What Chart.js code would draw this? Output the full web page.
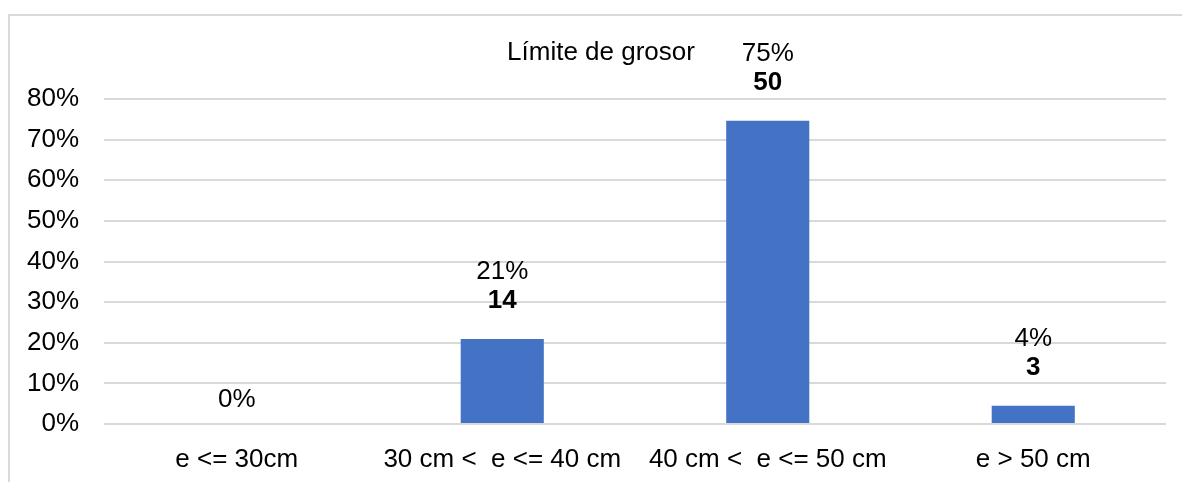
<!DOCTYPE html>
<html>
<head>
<meta charset="utf-8">
<script src="https://cdn.jsdelivr.net/npm/chart.js@4.4.1/dist/chart.umd.min.js"></script>
<style>
  html, body { margin: 0; padding: 0; background: #fff; }
  #wrap { position: relative; width: 1182px; height: 482px; overflow: hidden; }
  #frame { position: absolute; left: 8px; top: 14px; width: 1200px; height: 500px;
    border-top: 2px solid #d9d9d9; border-left: 2px solid #d9d9d9; box-sizing: border-box; }
  #chart { position: absolute; left: 0; top: 0; }
</style>
</head>
<body>
<div id="wrap">
  <div id="frame"></div>
  <canvas id="chart" width="1182" height="482"></canvas>
</div>
<script>
  const categories = ['e <= 30cm', '30 cm <  e <= 40 cm', '40 cm <  e <= 50 cm', 'e > 50 cm'];
  const counts = [0, 14, 50, 3];
  const total = counts.reduce((a, b) => a + b, 0);
  const percents = counts.map(c => c / total * 100);
  const yTicks = [0, 10, 20, 30, 40, 50, 60, 70, 80];
  const chartTitle = 'Límite de grosor';

  const FONT = '"Liberation Sans", Arial, Helvetica, sans-serif';
  const TEXT = '#000000';

  // title and bar labels drawn by hand so they sit where the original has them
  const labelsPlugin = {
    id: 'labelsPlugin',
    afterDatasetsDraw(chart) {
      const ctx = chart.ctx;
      const meta = chart.getDatasetMeta(0);
      ctx.save();
      ctx.textAlign = 'center';
      ctx.textBaseline = 'middle';
      ctx.fillStyle = TEXT;
      ctx.font = '26px ' + FONT;
      ctx.fillText(chartTitle, 601, 53);
      meta.data.forEach((bar, i) => {
        const pct = Math.round(percents[i]) + '%';
        ctx.font = '26px ' + FONT;
        if (counts[i] === 0) {
          ctx.fillText(pct, bar.x, bar.y - 24);
          return;
        }
        ctx.fillText(pct, bar.x, bar.y - 67);
        ctx.font = 'bold 26px ' + FONT;
        ctx.fillText(String(counts[i]), bar.x, bar.y - 38);
      });
      ctx.restore();
    }
  };

  new Chart(document.getElementById('chart'), {
    type: 'bar',
    data: {
      labels: categories,
      datasets: [{
        data: percents,
        backgroundColor: '#4472C4',
        borderWidth: 0,
        categoryPercentage: 1,
        barPercentage: 0.313,
      }],
    },
    options: {
      responsive: false,
      animation: false,
      layout: { padding: { left: 0, right: 16, top: 99, bottom: 0 } },
      plugins: {
        legend: { display: false },
        tooltip: { enabled: false },
        title: { display: false },
      },
      scales: {
        x: {
          grid: { display: false, drawTicks: false },
          border: { display: false },
          ticks: {
            color: TEXT,
            padding: 20,
            maxRotation: 0,
            autoSkip: false,
            font: { family: FONT, size: 26 },
          },
          afterFit(scale) { scale.height = 58; },
        },
        y: {
          min: 0,
          max: 80,
          afterBuildTicks(scale) { scale.ticks = yTicks.map(v => ({ value: v })); },
          grid: { color: '#d9d9d9', lineWidth: 2, drawTicks: false },
          border: { display: false },
          ticks: {
            color: TEXT,
            padding: 25,
            font: { family: FONT, size: 26 },
            callback: v => v + '%',
          },
          afterFit(scale) { scale.width = 104; },
        },
      },
    },
    plugins: [labelsPlugin],
  });
</script>
</body>
</html>
